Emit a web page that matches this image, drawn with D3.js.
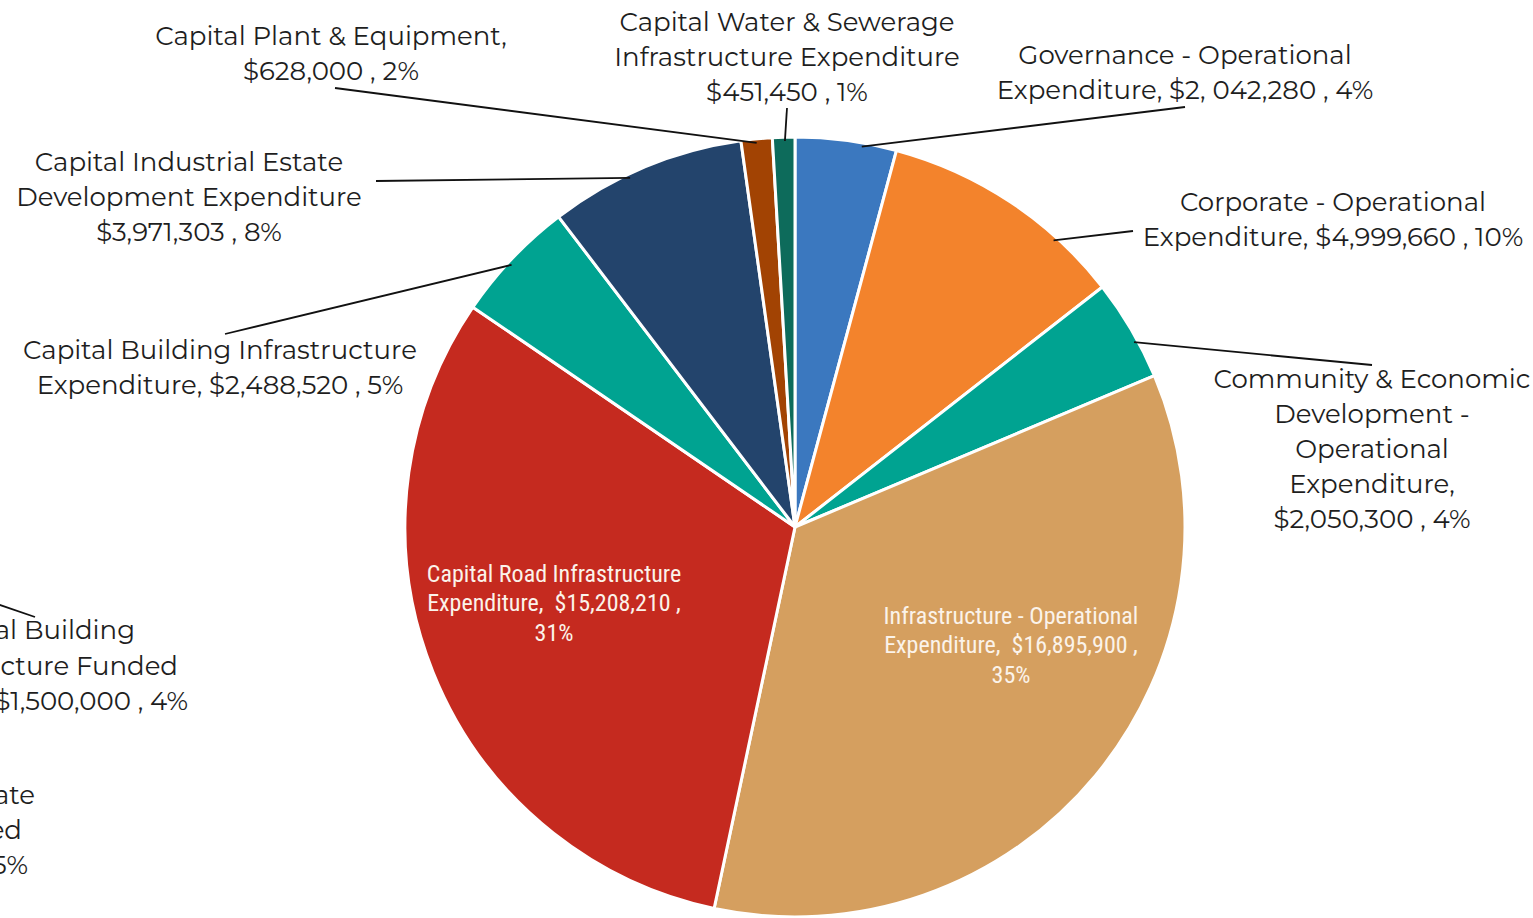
<!DOCTYPE html>
<html>
<head>
<meta charset="utf-8">
<script src="https://cdn.jsdelivr.net/npm/d3@7"></script>
<style>
  html, body { margin: 0; padding: 0; background: #ffffff; overflow: hidden; }
  svg { display: block; }
  text { white-space: pre; }
</style>
</head>
<body>
<svg id="chart" width="1533" height="918"></svg>
<script>
// ---------- DATA ----------
const categories = [
  "Governance - Operational Expenditure",
  "Corporate - Operational Expenditure",
  "Community & Economic Development - Operational Expenditure",
  "Infrastructure - Operational Expenditure",
  "Capital Road Infrastructure Expenditure",
  "Capital Building Infrastructure Expenditure",
  "Capital Industrial Estate Development Expenditure",
  "Capital Plant & Equipment",
  "Capital Water & Sewerage Infrastructure Expenditure"
];
const values = [2042280, 4999660, 2050300, 16895900, 15208210, 2488520, 3971303, 628000, 451450];
const valueLabels = ["$2, 042,280", "$4,999,660", "$2,050,300", "$16,895,900", "$15,208,210", "$2,488,520", "$3,971,303", "$628,000", "$451,450"];
const percentLabels = ["4%", "10%", "4%", "35%", "31%", "5%", "8%", "2%", "1%"];
const labelLines = [
  ["Governance - Operational", "Expenditure, $2, 042,280 , 4%"],
  ["Corporate - Operational", "Expenditure, $4,999,660 , 10%"],
  ["Community & Economic", "Development -", "Operational", "Expenditure,", "$2,050,300 , 4%"],
  ["Infrastructure - Operational", "Expenditure,  $16,895,900 ,", "35%"],
  ["Capital Road Infrastructure", "Expenditure,  $15,208,210 ,", "31%"],
  ["Capital Building Infrastructure", "Expenditure, $2,488,520 , 5%"],
  ["Capital Industrial Estate", "Development Expenditure", "$3,971,303 , 8%"],
  ["Capital Plant & Equipment,", "$628,000 , 2%"],
  ["Capital Water & Sewerage", "Infrastructure Expenditure", "$451,450 , 1%"]
];
// fragments of a neighbouring chart's labels, cut off at the left edge
const cutLabelLinesA = ["al Building", "cture Funded", "$1,500,000 , 4%"];
const cutLabelLinesB = ["ate", "ed", "5%"];

// ---------- STYLE / LAYOUT ----------
const colors = ["#3B78BF", "#F3832C", "#00A391", "#D59F5F", "#C52A1F", "#00A391", "#23446C", "#A24303", "#0D6B5B"];
const cx = 795, cy = 527, R = 390;
const lineGap = 35;
// per-slice label layout: outside (with leader) or inside
const labelLayout = [
  { type: "out", x: 1185, y: 55,  lx: 1185, ly: 107, frac: 0.66 },
  { type: "out", x: 1333, y: 202, lx: 1133, ly: 231, frac: 0.73 },
  { type: "out", x: 1372, y: 379, lx: 1372, ly: 365, frac: 0.62 },
  { type: "in",  x: 1011, y: 615 },
  { type: "in",  x: 554,  y: 573 },
  { type: "out", x: 220,  y: 350, lx: 225,  ly: 334, frac: 0.46 },
  { type: "out", x: 189,  y: 162, lx: 376,  ly: 181, frac: 0.41 },
  { type: "out", x: 331,  y: 36,  lx: 335,  ly: 88,  frac: 0.49 },
  { type: "out", x: 787,  y: 22,  lx: 787,  ly: 108, frac: 0.55 }
];

const svg = d3.select("#chart");
const outerFont = "'Montserrat', 'DejaVu Sans', sans-serif";
const innerFont = "'Liberation Sans Narrow', 'Arial Narrow', 'Roboto Condensed', Roboto, sans-serif";
const outerSize = 26, innerSize = 24;

const pie = d3.pie().value(d => d).sort(null).startAngle(0).endAngle(2 * Math.PI);
const arcs = pie(values);
const arcGen = d3.arc().innerRadius(0).outerRadius(R);

const g = svg.append("g").attr("transform", `translate(${cx},${cy})`);
g.selectAll("path.slice")
  .data(arcs)
  .join("path")
  .attr("class", "slice")
  .attr("d", arcGen)
  .attr("fill", (d, i) => colors[i])
  .attr("stroke", "#ffffff")
  .attr("stroke-width", 3)
  .attr("stroke-linejoin", "round");

// leader lines
arcs.forEach((a, i) => {
  const L = labelLayout[i];
  if (L.type !== "out") return;
  const ang = a.startAngle + (a.endAngle - a.startAngle) * L.frac;
  const rr = R * 0.99;
  const ex = cx + rr * Math.sin(ang);
  const ey = cy - rr * Math.cos(ang);
  svg.append("line")
    .attr("x1", L.lx).attr("y1", L.ly)
    .attr("x2", ex).attr("y2", ey)
    .attr("stroke", "#111111").attr("stroke-width", 1.8);
});

// labels
arcs.forEach((a, i) => {
  const L = labelLayout[i];
  const lines = labelLines[i];
  const isIn = L.type === "in";
  const t = svg.append("text")
    .attr("text-anchor", "middle")
    .attr("font-family", isIn ? innerFont : outerFont)
    .attr("font-size", isIn ? innerSize : outerSize)
    .attr("fill", isIn ? "#FBF3EA" : "#1e1e1e");
  const gap = isIn ? 29.5 : lineGap;
  lines.forEach((s, k) => {
    t.append("tspan")
      .attr("x", L.x)
      .attr("y", L.y + k * gap)
      .attr("dy", "0.36em")
      .text(s);
  });
});

// cut-off neighbouring labels
svg.append("line").attr("x1", -6).attr("y1", 603).attr("x2", 35).attr("y2", 617)
  .attr("stroke", "#111111").attr("stroke-width", 1.8);
const cutEndsA = [135, 178, 188];
cutLabelLinesA.forEach((s, k) => {
  svg.append("text").attr("x", cutEndsA[k]).attr("y", 630 + k * 35.5).attr("dy", "0.36em")
    .attr("text-anchor", "end").attr("font-family", outerFont).attr("font-size", outerSize)
    .attr("fill", "#1e1e1e").text(s);
});
const cutEndsB = [35, 22, 28];
cutLabelLinesB.forEach((s, k) => {
  svg.append("text").attr("x", cutEndsB[k]).attr("y", 795 + k * 35).attr("dy", "0.36em")
    .attr("text-anchor", "end").attr("font-family", outerFont).attr("font-size", outerSize)
    .attr("fill", "#1e1e1e").text(s);
});
</script>
</body>
</html>
